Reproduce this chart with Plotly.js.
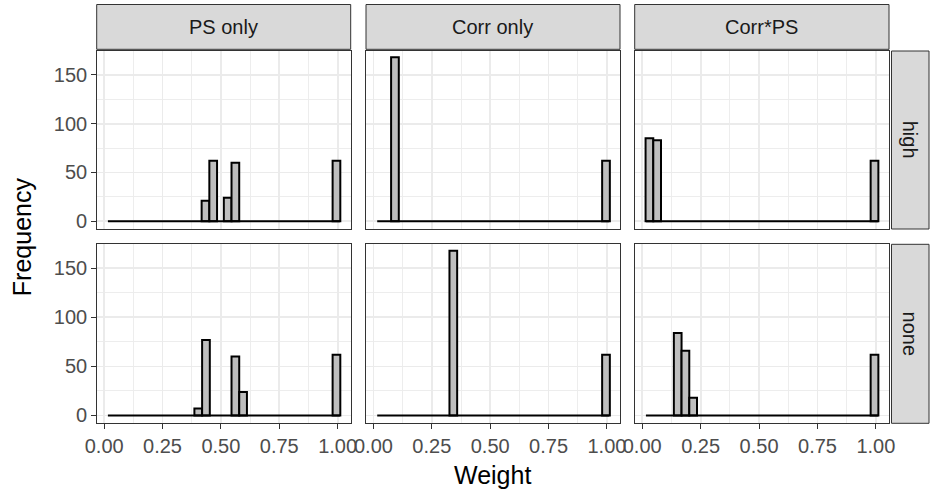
<!DOCTYPE html>
<html>
<head>
<meta charset="utf-8">
<script src="https://cdn.plot.ly/plotly-3.0.1.min.js"></script>
<style>html,body{margin:0;padding:0;background:#fff}#chart{width:931px;height:496px}</style>
</head>
<body>
<div id="chart"></div>
<script>
// ---- data ----
const columns = ["PS only", "Corr only", "Corr*PS"];
const rows = ["high", "none"];
const binWidth = 0.033;
const baselineStart = 0.016;
const baselineEnd = 1.010;

// bar centres and counts for each panel (non-empty bins only)
const psHighX   = [0.434, 0.467, 0.529, 0.562, 0.995];
const psHighY   = [21, 62, 24, 60, 62];
const psNoneX   = [0.403, 0.436, 0.562, 0.595, 0.995];
const psNoneY   = [7, 77, 60, 24, 62];
const corrHighX = [0.092, 0.996];
const corrHighY = [168, 62];
const corrNoneX = [0.342, 0.996];
const corrNoneY = [168, 62];
const cpsHighX  = [0.031, 0.064, 0.994];
const cpsHighY  = [85, 83, 62];
const cpsNoneX  = [0.152, 0.185, 0.218, 0.994];
const cpsNoneY  = [84, 66, 18, 62];

const xTickVals = [0, 0.25, 0.5, 0.75, 1];
const xTickText = ["0.00", "0.25", "0.50", "0.75", "1.00"];
const yTickVals = [0, 50, 100, 150];
const yTickText = ["0", "50", "100", "150"];

// ---- layout geometry (pixels) ----
const W = 931, H = 496;
const colPx = [[96.7, 350.7], [366, 620], [634.7, 889]];
const rowPx = [[51, 229], [244.3, 423.3]];
const stripTop = [4.5, 49.3];
const stripRight = [891.5, 929];
const FONT = "Liberation Sans, Arial, sans-serif";
const TICK_SIZE = 20;
const STRIP_SIZE = 20;
const TITLE_SIZE = 25;

const panels = [
  [[psHighX, psHighY], [corrHighX, corrHighY], [cpsHighX, cpsHighY]],
  [[psNoneX, psNoneY], [corrNoneX, corrNoneY], [cpsNoneX, cpsNoneY]]
];

const traces = [];
const layout = {
  width: W, height: H,
  margin: {l: 0, r: 0, t: 0, b: 0},
  paper_bgcolor: "#ffffff",
  plot_bgcolor: "#ffffff",
  showlegend: false,
  barmode: "overlay",
  shapes: [],
  annotations: []
};

const px2x = p => p / W;
const px2y = p => 1 - p / H;

let idx = 0;
for (let r = 0; r < 2; r++) {
  for (let c = 0; c < 3; c++) {
    idx++;
    const xa = idx === 1 ? "x" : "x" + idx;
    const ya = idx === 1 ? "y" : "y" + idx;
    const xKey = idx === 1 ? "xaxis" : "xaxis" + idx;
    const yKey = idx === 1 ? "yaxis" : "yaxis" + idx;
    const [bx, by] = panels[r][c];
    traces.push({
      type: "bar", x: bx, y: by, width: binWidth,
      xaxis: xa, yaxis: ya,
      marker: {color: "#BEBEBE", line: {color: "#000000", width: 2}},
      hoverinfo: "skip"
    });
    traces.push({
      type: "scatter", mode: "lines",
      x: [baselineStart, baselineEnd], y: [0, 0],
      xaxis: xa, yaxis: ya,
      line: {color: "#000000", width: 2},
      hoverinfo: "skip"
    });
    const showX = r === 1;
    const showY = c === 0;
    layout[xKey] = {
      domain: [px2x(colPx[c][0]), px2x(colPx[c][1])],
      anchor: ya,
      range: [-0.032, 1.056],
      tickvals: xTickVals, ticktext: xTickText,
      showticklabels: showX,
      ticks: showX ? "outside" : "",
      ticklen: 4.5, tickwidth: 1, tickcolor: "#333333",
      tickfont: {family: FONT, size: TICK_SIZE, color: "#4D4D4D"},
      showgrid: true, gridcolor: "#EBEBEB", gridwidth: 1.8,
      minor: {dtick: 0.125, tick0: 0, showgrid: true, gridcolor: "#EBEBEB", gridwidth: 0.9, ticks: ""},
      zeroline: false,
      showline: true, mirror: true, linecolor: "#333333", linewidth: 1,
      fixedrange: true
    };
    layout[yKey] = {
      domain: [px2y(rowPx[r][1]), px2y(rowPx[r][0])],
      anchor: xa,
      range: [-8, 174.5],
      tickvals: yTickVals, ticktext: yTickText,
      showticklabels: showY,
      ticks: showY ? "outside" : "",
      ticklen: 4.5, tickwidth: 1, tickcolor: "#333333",
      tickfont: {family: FONT, size: TICK_SIZE, color: "#4D4D4D"},
      showgrid: true, gridcolor: "#EBEBEB", gridwidth: 1.8,
      minor: {dtick: 25, tick0: 0, showgrid: true, gridcolor: "#EBEBEB", gridwidth: 0.9, ticks: ""},
      zeroline: false,
      showline: true, mirror: true, linecolor: "#333333", linewidth: 1,
      fixedrange: true
    };
  }
}

// top strips
for (let c = 0; c < 3; c++) {
  layout.shapes.push({
    type: "rect", xref: "paper", yref: "paper", layer: "below",
    x0: px2x(colPx[c][0]), x1: px2x(colPx[c][1]),
    y0: px2y(stripTop[1]), y1: px2y(stripTop[0]),
    fillcolor: "#D9D9D9", line: {color: "#333333", width: 1}
  });
  layout.annotations.push({
    xref: "paper", yref: "paper", showarrow: false,
    x: px2x((colPx[c][0] + colPx[c][1]) / 2), y: px2y((stripTop[0] + stripTop[1]) / 2),
    xanchor: "center", yanchor: "middle",
    text: columns[c], font: {family: FONT, size: STRIP_SIZE, color: "#1A1A1A"}
  });
}
// right strips
for (let r = 0; r < 2; r++) {
  layout.shapes.push({
    type: "rect", xref: "paper", yref: "paper", layer: "below",
    x0: px2x(stripRight[0]), x1: px2x(stripRight[1]),
    y0: px2y(rowPx[r][1]), y1: px2y(rowPx[r][0]),
    fillcolor: "#D9D9D9", line: {color: "#333333", width: 1}
  });
  layout.annotations.push({
    xref: "paper", yref: "paper", showarrow: false,
    x: px2x((stripRight[0] + stripRight[1]) / 2), y: px2y((rowPx[r][0] + rowPx[r][1]) / 2),
    xanchor: "center", yanchor: "middle", textangle: 90,
    text: rows[r], font: {family: FONT, size: STRIP_SIZE, color: "#1A1A1A"}
  });
}
// axis titles
layout.annotations.push({
  xref: "paper", yref: "paper", showarrow: false,
  x: px2x((colPx[0][0] + colPx[2][1]) / 2), y: px2y(475),
  xanchor: "center", yanchor: "middle",
  text: "Weight", font: {family: FONT, size: TITLE_SIZE, color: "#000000"}
});
layout.annotations.push({
  xref: "paper", yref: "paper", showarrow: false,
  x: px2x(22), y: px2y((rowPx[0][0] + rowPx[1][1]) / 2),
  xanchor: "center", yanchor: "middle", textangle: -90,
  text: "Frequency", font: {family: FONT, size: TITLE_SIZE, color: "#000000"}
});

Plotly.newPlot("chart", traces, layout, {displayModeBar: false, staticPlot: true});
</script>
</body>
</html>
